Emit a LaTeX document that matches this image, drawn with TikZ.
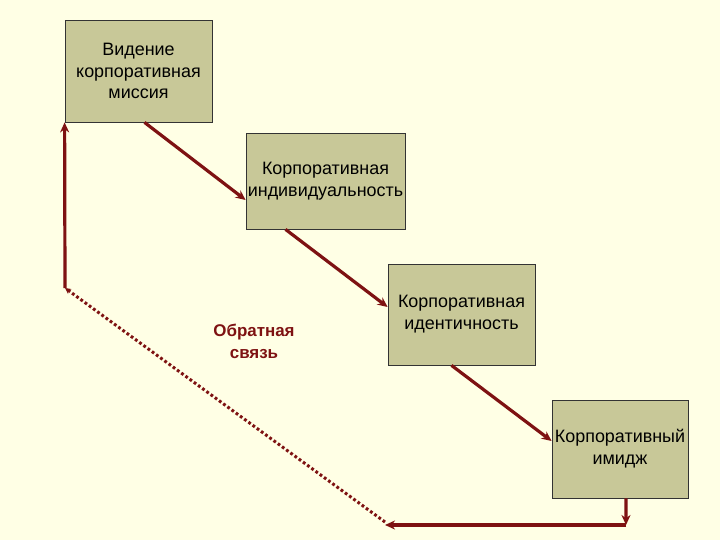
\documentclass[tikz,border=0pt]{standalone}
\usepackage{fontspec}
\setmainfont{Liberation Sans}
\usetikzlibrary{arrows.meta}
\definecolor{bgcol}{HTML}{FFFFE5}
\definecolor{boxcol}{HTML}{C8C898}
\definecolor{linkcol}{HTML}{7E1212}
\begin{document}
\begin{tikzpicture}[x=1bp, y=-1bp,
    stage/.style={rectangle, draw=black!80, line width=0.8bp, fill=boxcol, inner sep=0pt, align=center, font=\fontsize{18}{22}\selectfont},
    arrow/.style={-{Stealth[length=10bp, width=9bp]}, line width=3.2bp, draw=linkcol},
    feedback/.style={line width=3bp, draw=linkcol, dash pattern=on 2.8bp off 2.4bp}
]
    \fill[bgcol] (0,0) rectangle (720,540);
    \useasboundingbox (0,0) rectangle (720,540);

    \node[stage, minimum width=147bp, minimum height=102bp] (vision) at (138.5,71) {Видение\\корпоративная\\миссия};
    \node[stage, minimum width=159bp, minimum height=96bp] (individ) at (325.5,181) {Корпоративная\\индивидуальность};
    \node[stage, minimum width=147bp, minimum height=101bp] (ident) at (461.5,314.5) {Корпоративная\\идентичность};
    \node[stage, minimum width=136bp, minimum height=98bp] (image) at (620,449) {Корпоративный\\имидж};

    \node[font=\fontsize{17}{22}\selectfont\bfseries, text=linkcol, align=center] (fbtext) at (254,341) {Обратная\\связь};

    \coordinate (down) at (626,525);
    \coordinate (left) at (385,525);
    \coordinate (corner) at (65,288);

    \draw[arrow] ([xshift=6bp]vision.south) -- ([yshift=-19bp]individ.west);
    \draw[arrow] ([xshift=-40bp]individ.south) -- ([yshift=7.5bp]ident.west);
    \draw[arrow] ([xshift=-10bp]ident.south) -- ([yshift=8bp]image.west);
    \draw[arrow] ([xshift=6bp]image.south) -- (down);
    \draw[arrow] (down) -- (left);
    \draw[feedback, -{Stealth[length=6bp, width=6bp]}] ([yshift=3bp]left) -- (corner);
    \draw[arrow] (corner) -- (vision.south west);
\end{tikzpicture}
\end{document}
